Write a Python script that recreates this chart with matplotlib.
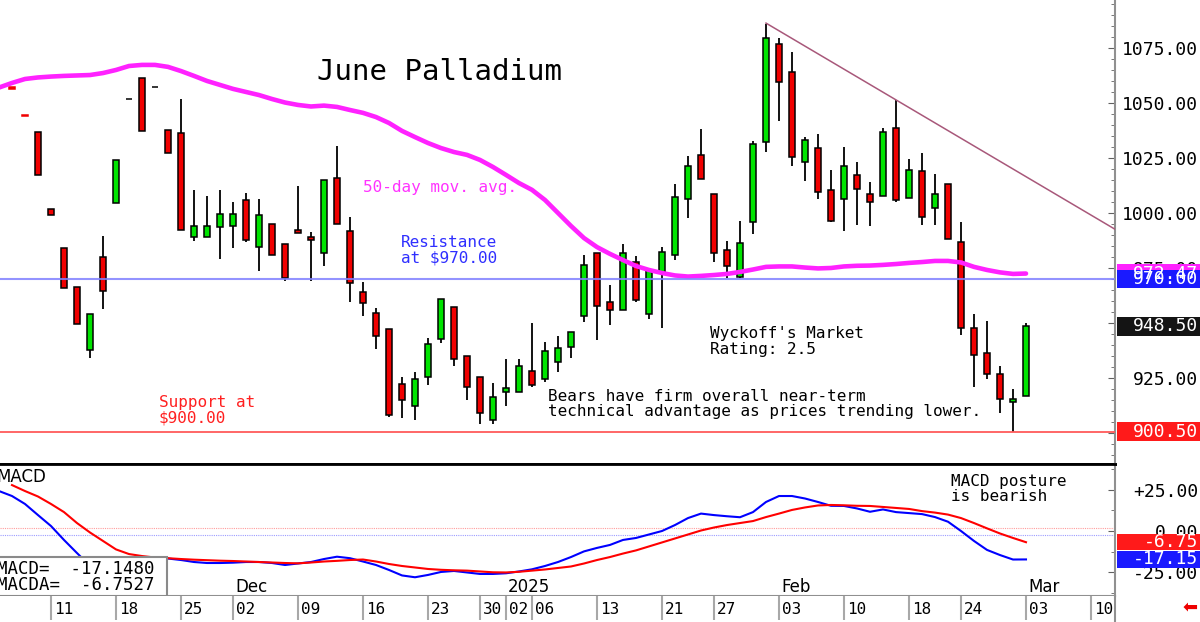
import numpy as np
import matplotlib.pyplot as plt
from matplotlib.patches import Rectangle
from matplotlib.transforms import blended_transform_factory
from matplotlib.ticker import MultipleLocator

# daily candles, Nov 6 2024 .. Mar 3 2025 (trading days, index 0..78)
opens = [1057.2, 1044.7, 1037.0, 1001.7, 984.2, 966.5, 937.7, 980.1, 1004.4, 1051.7,
         1061.5, 1057.1, 1037.7, 1036.5, 989.2, 989.2, 993.8, 994.2, 1005.9, 984.4,
         994.9, 985.8, 992.1, 989.2, 982.0, 1015.8, 992.0, 964.2, 954.7, 947.1,
         922.1, 912.4, 925.3, 942.7, 957.1, 935.0, 925.3, 905.9, 918.5, 918.5,
         928.2, 924.7, 932.4, 939.0, 953.3, 982.0, 959.4, 956.0, 977.9, 954.1,
         972.6, 980.9, 1006.2, 1026.2, 1008.6, 983.0, 971.0, 995.8, 1032.1, 1077.0,
         1064.0, 1023.0, 1029.7, 1010.5, 1006.4, 1017.1, 1008.8, 1007.9, 1038.8, 1006.7,
         1019.1, 1002.1, 1013.0, 987.0, 947.9, 936.5, 926.7, 914.2, 917.0]
highs = [1057.2, 1044.7, 1037.0, 1001.7, 984.2, 966.5, 954.0, 989.5, 1024.1, 1051.7,
         1061.5, 1057.1, 1037.7, 1051.7, 1010.5, 1007.7, 1010.5, 1005.0, 1008.9, 1006.2,
         994.9, 985.8, 1012.1, 991.5, 1015.0, 1030.5, 998.0, 968.8, 956.7, 947.1,
         925.3, 927.7, 943.3, 960.8, 957.1, 935.0, 925.3, 922.6, 933.8, 933.6,
         949.9, 941.2, 944.1, 945.8, 980.9, 982.0, 967.3, 985.8, 980.6, 975.1,
         984.7, 1013.0, 1025.9, 1038.0, 1008.6, 987.4, 996.5, 1032.7, 1085.9, 1079.7,
         1073.3, 1034.7, 1035.9, 1019.5, 1029.9, 1023.2, 1014.2, 1038.8, 1051.4, 1024.5,
         1027.4, 1017.7, 1013.0, 995.8, 954.1, 951.0, 930.5, 919.9, 949.9]
lows = [1056.2, 1044.3, 1017.3, 999.2, 966.0, 949.4, 934.0, 956.4, 1004.4, 1051.7,
        1037.3, 1057.1, 1027.4, 992.1, 987.4, 989.2, 979.1, 984.2, 987.0, 973.5,
        980.8, 969.2, 990.8, 969.2, 976.0, 995.0, 959.7, 953.3, 938.2, 907.1,
        906.7, 905.9, 921.8, 941.0, 930.6, 915.0, 904.1, 904.1, 912.4, 918.5,
        920.8, 923.0, 927.6, 934.2, 950.6, 942.3, 949.1, 956.0, 959.7, 951.8,
        947.6, 978.6, 997.9, 1015.3, 977.9, 970.3, 970.5, 990.5, 1027.6, 1041.8,
        1021.4, 1014.7, 1006.2, 995.8, 991.8, 994.5, 994.2, 1007.9, 1005.1, 1006.7,
        994.5, 994.5, 988.0, 944.5, 920.8, 924.4, 909.2, 900.5, 917.0]
closes = [1056.2, 1044.3, 1017.3, 999.2, 966.0, 949.4, 954.0, 964.7, 1024.1, 1051.7,
          1037.3, 1057.1, 1027.4, 992.1, 994.2, 994.2, 999.4, 999.4, 987.6, 998.9,
          980.8, 970.6, 990.8, 987.9, 1015.0, 995.0, 968.0, 959.0, 944.2, 908.2,
          915.0, 924.7, 940.6, 960.8, 933.8, 920.9, 909.0, 916.5, 920.3, 930.6,
          921.8, 937.3, 938.8, 945.8, 976.4, 957.9, 955.9, 981.7, 960.5, 974.1,
          982.1, 1007.4, 1021.5, 1015.3, 982.0, 976.0, 986.2, 1031.5, 1079.4, 1059.7,
          1025.3, 1033.0, 1009.7, 996.5, 1021.5, 1010.9, 1004.9, 1037.0, 1005.9, 1019.5,
          998.0, 1008.8, 988.0, 947.6, 935.5, 926.8, 915.3, 915.3, 948.5]

# 50-day moving average, index -1..78
ma50 = [1057.0, 1059.1, 1060.9, 1061.6, 1062.0, 1062.3, 1062.5, 1062.7, 1063.6, 1065.0,
        1066.8, 1067.3, 1067.3, 1066.4, 1064.5, 1062.3, 1060.0, 1058.2, 1056.4, 1055.0,
        1053.6, 1051.8, 1050.2, 1049.1, 1048.4, 1048.8, 1048.2, 1046.8, 1045.5, 1043.6,
        1040.9, 1037.3, 1034.5, 1031.8, 1029.5, 1027.7, 1026.4, 1024.1, 1020.9, 1017.3,
        1013.6, 1010.5, 1005.9, 1000.0, 994.1, 988.6, 984.5, 981.4, 978.6, 975.9,
        974.1, 972.7, 971.6, 971.1, 971.4, 971.8, 972.3, 973.2, 974.3, 975.5,
        975.7, 975.7, 975.2, 974.8, 975.0, 975.7, 976.0, 976.1, 976.4, 976.8,
        977.3, 977.7, 978.2, 978.2, 977.5, 975.5, 974.1, 973.0, 972.3, 972.47]

# MACD (index -1..78) and its signal line MACDA (index 0..78)
macd = [24.1, 21.1, 16.3, 9.6, 3.0, -5.4, -13.3, -21.0, -26.5, -28.3,
        -26.5, -23.5, -20.5, -16.6, -17.5, -18.7, -19.3, -19.3, -19.1, -18.7,
        -18.7, -19.3, -20.5, -19.6, -18.7, -16.9, -15.5, -16.4, -18.4, -20.5,
        -23.5, -26.8, -27.9, -26.5, -24.7, -24.1, -25.0, -25.9, -25.9, -25.5,
        -24.4, -23.1, -21.1, -18.7, -15.7, -12.3, -10.2, -8.4, -5.4, -4.2,
        -2.1, 0.0, 3.6, 7.8, 10.5, 9.6, 8.9, 8.3, 11.4, 17.5,
        21.1, 21.1, 19.6, 17.5, 15.2, 15.1, 13.6, 11.6, 13.0, 11.4,
        10.8, 10.2, 8.4, 5.6, 0.0, -6.0, -11.4, -14.5, -17.2, -17.148]
macda = [27.7, 24.1, 20.8, 16.3, 11.4, 4.8, -0.9, -6.0, -11.1, -13.9,
         -15.1, -16.0, -16.4, -16.9, -17.3, -17.6, -17.9, -18.1, -18.4, -18.7,
         -19.0, -19.3, -19.5, -19.0, -18.4, -18.0, -17.5, -17.2, -18.4, -19.9,
         -21.1, -22.0, -22.9, -23.4, -23.7, -23.9, -24.4, -24.9, -25.0, -24.6,
         -23.9, -23.2, -22.3, -21.4, -19.6, -17.5, -15.7, -13.6, -11.7, -9.3,
         -6.9, -4.5, -2.1, 0.3, 2.1, 3.6, 4.8, 6.0, 8.4, 10.5,
         12.7, 14.2, 15.4, 15.7, 15.5, 15.2, 15.1, 14.5, 13.9, 13.3,
         12.0, 11.1, 9.9, 7.8, 4.8, 1.6, -1.5, -4.2, -6.753]
macd_last = -17.1480
macda_last = -6.7527

tick_idx = [3, 8, 13, 17, 22, 27, 32, 36, 38, 40, 45, 50, 54, 59, 64, 69, 73, 78, 83]
tick_lab = ['11', '18', '25', '02', '09', '16', '23', '30', '02', '06', '13', '21',
            '27', '03', '10', '18', '24', '03', '10']
month_idx = [17, 38, 59, 78]
month_lab = ['Dec', '2025', 'Feb', 'Mar']

resistance = 970.00
support = 900.50
trend_x = [58, 68]
trend_y = [1086.3, 1051.4]

GREEN = '#00e400'
RED = '#f00000'
MONO = 'DejaVu Sans Mono'
XLIM = (-0.923, 84.85)

fig = plt.figure(figsize=(12, 6.22), dpi=100)
ax = fig.add_axes([0, 0.2540, 0.9292, 0.7460])
ax2 = fig.add_axes([0, 0.0418, 0.9292, 0.2122])
ax3 = fig.add_axes([0, 0.0, 0.9292, 0.0418])

o = np.array(opens)
h = np.array(highs)
l = np.array(lows)
c = np.array(closes)
x = np.arange(len(o))
xm = np.arange(-1, len(o))

# ---- price panel
face = np.where(c > o, GREEN, np.where(c < o, RED, 'black'))
edge = np.where((np.abs(c - o) < 1.05) & (c != o), face, 'black')
ax.vlines(x, l, h, color='black', lw=1.3, zorder=2)
ax.bar(x, np.abs(c - o), bottom=np.minimum(o, c), width=0.42, color=face,
       edgecolor=edge, linewidth=1.1, zorder=3)

ax.plot(xm, ma50, color='#ff22ff', lw=3.3, zorder=4, solid_capstyle='round')
ax.axhline(resistance, color='#8080ff', lw=1.5, alpha=0.85, zorder=4)
ax.axhline(support, color='#ff5a5a', lw=1.3, zorder=4)

slope = (trend_y[1] - trend_y[0]) / (trend_x[1] - trend_x[0])
ax.plot([trend_x[0], XLIM[1]], [trend_y[0], trend_y[0] + slope * (XLIM[1] - trend_x[0])],
        color='#a8587a', lw=1.1, zorder=4)

ax.text(23.5, 1064.1, 'June Palladium', fontsize=21, family=MONO, va='center')
ax.text(27.0, 1011.4, '50-day mov. avg.', fontsize=11.5, family=MONO, color='#ff33ff', va='center')
ax.text(29.9, 983.2, 'Resistance\nat $970.00', fontsize=11.5, family=MONO, color='#2f2fff',
        va='center', linespacing=1.05)
ax.text(11.3, 910.2, 'Support at\n$900.00', fontsize=11.5, family=MONO, color='#ff2020',
        va='center', linespacing=1.05)
ax.text(53.7, 941.6, "Wyckoff's Market\nRating: 2.5", fontsize=11.5, family=MONO,
        va='center', linespacing=1.05)
ax.text(41.2, 913.2, 'Bears have firm overall near-term\n'
        'technical advantage as prices trending lower.', fontsize=11.5, family=MONO,
        va='center', linespacing=1.05)

ax.set_xlim(*XLIM)
ax.set_ylim(885.9, 1096.8)
ax.set_xticks([])
yt = np.arange(900, 1076, 25)
# 900 and 950 sit fully under the value boxes
ylabs = ['' if v in (900, 950) else '%.2f' % v for v in yt]
ax.yaxis.tick_right()
ax.set_yticks(yt, labels=ylabs, ha='right', family=MONO)
ax.yaxis.set_minor_locator(MultipleLocator(5))
ax.tick_params(axis='y', which='both', direction='in', pad=59.8, labelsize=13,
               color='#606060', right=True, left=False)
ax.tick_params(axis='y', which='major', length=5)
ax.tick_params(axis='y', which='minor', length=3)
for s in ['top', 'left']:
    ax.spines[s].set_visible(False)
ax.spines['bottom'].set_linewidth(2)
ax.spines['right'].set_color('#909090')
ax.spines['right'].set_linewidth(1.5)


def value_box(a, y, txt, col, h):
    tr = blended_transform_factory(a.transAxes, a.transData)
    a.add_patch(Rectangle((1.0018, y - h / 2), 0.08, h, transform=tr, facecolor=col,
                          edgecolor='none', clip_on=False, zorder=5))
    a.text(1198 / 1115, y, txt, transform=tr, ha='right', va='center', color='white',
           fontsize=13, family=MONO, clip_on=False, zorder=6)


value_box(ax, ma50[-1], '%.2f' % ma50[-1], '#ff22ff', 8.6)
value_box(ax, resistance, '%.2f' % resistance, '#1a1aff', 8.6)
value_box(ax, closes[-1], '%.2f' % closes[-1], '#141414', 8.6)
value_box(ax, support, '%.2f' % support, '#ff1a1a', 8.6)

# ---- MACD panel
ax2.plot(xm, macd, color='#0000ff', lw=1.5, zorder=2)
ax2.plot(x, macda, color='#ff0000', lw=1.5, zorder=2)
ax2.axhline(1.6, color='#ff9c9c', lw=0.8, ls=(0, (1, 1)), zorder=1)
ax2.axhline(-2.6, color='#9c9cff', lw=0.8, ls=(0, (1, 1)), zorder=1)
ax2.set_xlim(*XLIM)
ax2.set_ylim(-39.2, 40.4)
ax2.set_xticks([])
mt = [-25, 0, 25]
ax2.yaxis.tick_right()
ax2.set_yticks(mt, labels=['-25.00', '0.00', '+25.00'], ha='right', family=MONO)
ax2.yaxis.set_minor_locator(MultipleLocator(12.5))
ax2.tick_params(axis='y', which='both', direction='in', pad=59.8, labelsize=13,
                color='#606060', right=True, left=False)
ax2.tick_params(axis='y', which='major', length=5)
ax2.tick_params(axis='y', which='minor', length=3)
ax2.spines['left'].set_visible(False)
ax2.spines['top'].set_linewidth(2)
ax2.spines['bottom'].set_color('#909090')
ax2.spines['bottom'].set_linewidth(1.5)
ax2.spines['right'].set_color('#909090')
ax2.spines['right'].set_linewidth(1.5)

ax2.text(-0.003, 32.5, 'MACD', fontsize=12, va='center', ha='left',
         transform=blended_transform_factory(ax2.transAxes, ax2.transData))
ax2.text(72.2, 25.3, 'MACD posture\nis bearish', fontsize=11.5, family=MONO,
         va='center', linespacing=1.05)
for i, lab in zip(month_idx, month_lab):
    ax2.text(i + 0.15, -33.7, lab, fontsize=12, va='center', ha='left')

ax2.add_patch(Rectangle((-0.01, 0), 0.01 + 167 / 1115, 0.295, transform=ax2.transAxes,
                        facecolor='white', edgecolor='#8a8a8a', lw=1.5, zorder=5))
ax2.text(-0.003, 0.205, 'MACD=  %.4f' % macd_last, transform=ax2.transAxes, fontsize=12.5,
         family=MONO, va='center', zorder=6)
ax2.text(-0.003, 0.083, 'MACDA=  %.4f' % macda_last, transform=ax2.transAxes, fontsize=12.5,
         family=MONO, va='center', zorder=6)

value_box(ax2, macda[-1], '%.2f' % macda[-1], '#ff1a1a', 9.8)
value_box(ax2, macd[-1], '%.2f' % macd[-1], '#1a1aff', 9.8)

# ---- date strip
ax3.set_xlim(*XLIM)
ax3.set_ylim(0, 1)
ax3.vlines(tick_idx, 0.08, 1, color='#a8a8a8', lw=1.5)
for i, lab in zip(tick_idx, tick_lab):
    ax3.text(i + 0.2, 0.47, lab, fontsize=11.5, family=MONO, va='center', ha='left')
ax3.set_xticks([])
ax3.set_yticks([])
for s in ['top', 'left', 'bottom']:
    ax3.spines[s].set_visible(False)
ax3.spines['right'].set_color('#909090')
ax3.spines['right'].set_linewidth(1.5)

fig.text(0.992, 0.024, '\u2b05', color='#ee0000', fontsize=13, ha='center', va='center')

fig.savefig('out.png', dpi=100)
